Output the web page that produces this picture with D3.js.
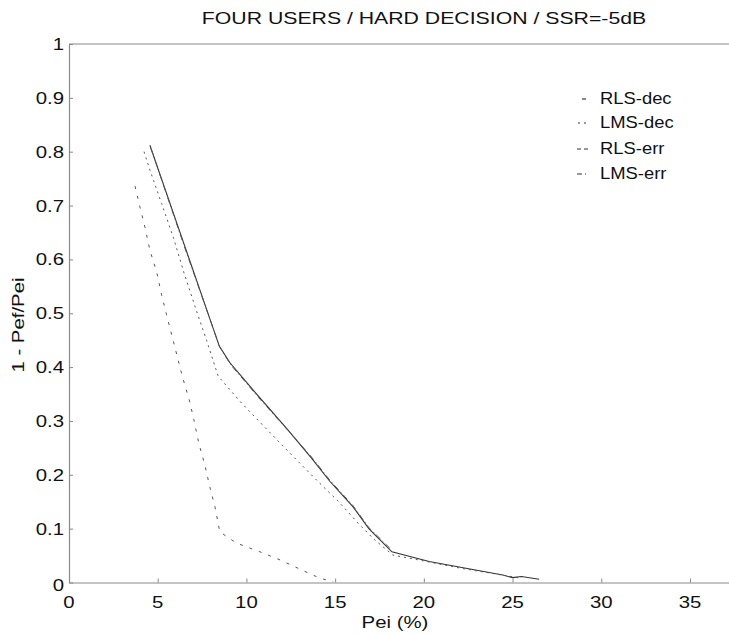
<!DOCTYPE html>
<html><head><meta charset="utf-8">
<script src="https://cdn.jsdelivr.net/npm/d3@7"></script>
<style>html,body{margin:0;padding:0;background:#fff;}svg{display:block;}text{font-family:"Liberation Sans",Arial,sans-serif;fill:#111;}</style>
</head><body>
<script>
// ---- data ----
const title = "FOUR USERS / HARD DECISION / SSR=-5dB";
const xLabel = "Pei (%)";
const yLabel = "1 - Pef/Pei";
const xTicks = [0,5,10,15,20,25,30,35];
const yTicks = [0,0.1,0.2,0.3,0.4,0.5,0.6,0.7,0.8,0.9,1];
const seriesNames = ["RLS-dec","LMS-dec","RLS-err","LMS-err"];
const legendMarks = ["-","..","--","-."];

const rlsDecX = [4.56,6.5,8.47,9.07,10.7,12.3,13.67,14.7,16.0,16.9,18.2,20.3,22.6,24.45,25.0,25.5,26.5];
const rlsDecY = [0.812,0.627,0.439,0.408,0.345,0.285,0.231,0.188,0.141,0.10,0.057,0.039,0.025,0.014,0.009,0.011,0.006];
const lmsDecX = [4.23,4.56,5.22,5.88,6.5,7.14,7.76,8.41,9.73,10.52,12.04,13.39,14.05,15.2,16.3,17.2,18.25,20,22,24,25.5];
const lmsDecY = [0.80,0.766,0.704,0.641,0.573,0.509,0.449,0.383,0.333,0.306,0.254,0.209,0.187,0.15,0.11,0.08,0.051,0.04,0.027,0.016,0.008];
const rlsErrX = [3.72,4.0,4.28,4.56,4.94,5.22,5.5,6.41,6.78,7.04,7.32,7.66,7.94,8.23,8.5,9.45,10.76,11.89,13.0,14.14,14.89];
const rlsErrY = [0.736,0.697,0.66,0.617,0.577,0.534,0.497,0.38,0.339,0.302,0.258,0.218,0.177,0.14,0.094,0.073,0.057,0.042,0.025,0.008,0.0015];
const lmsErrX = [4.62,6.5,8.5,9.1,10.7,12.3,13.67,14.7,16.0,16.9,18.2];
const lmsErrY = [0.806,0.624,0.437,0.405,0.343,0.284,0.233,0.19,0.143,0.102,0.06];

// ---- drawing ----
const W = 729, H = 634;
const svg = d3.select("body").append("svg").attr("width", W).attr("height", H);
svg.append("rect").attr("width", W).attr("height", H).attr("fill", "#fff");

const x = d3.scaleLinear().domain([0, 37.2]).range([69, 729]);
const y = d3.scaleLinear().domain([0, 1]).range([582.5, 44]);

function txt(px, py, s, size, anchor, sx, rot) {
  const g = svg.append("g").attr("transform", `translate(${px},${py})` + (rot ? ` rotate(${rot})` : "") + ` scale(${sx},1)`);
  g.append("text").attr("text-anchor", anchor).style("font-size", size + "px").text(s);
  return g;
}

// axes
const gx = svg.append("g").attr("transform", `translate(0,${y(0)})`)
  .call(d3.axisBottom(x).tickValues(xTicks).tickSizeInner(-4).tickSizeOuter(0).tickFormat(""));
const gy = svg.append("g").attr("transform", `translate(${x(0)},0)`)
  .call(d3.axisLeft(y).tickValues(yTicks).tickSizeInner(-4).tickSizeOuter(0).tickFormat(""));
[gx, gy].forEach(g => {
  g.select(".domain").attr("stroke", "#8a8a8a").attr("stroke-width", 1.2);
  g.selectAll(".tick line").attr("stroke", "#888");
});
svg.append("line").attr("x1", x(0)).attr("x2", x(37.2)).attr("y1", y(1)).attr("y2", y(1))
  .attr("stroke", "#8a8a8a").attr("stroke-width", 1.2);

// tick labels
xTicks.forEach(t => txt(x(t), 608, String(t), 17, "middle", 1.2));
yTicks.forEach(t => txt(x(0) - 5, y(t) + 6 + (t === 0 ? 2 : 0), String(t), 17, "end", 1.2));

// titles
txt(424, 24, title, 17, "middle", 1.25);
txt(395, 628, xLabel, 17, "middle", 1.2);
txt(24, 325, yLabel, 17, "middle", 1.2, -90);

// series
const styles = [
  {dash: null, color: "#333", w: 1.1},
  {dash: "2,4", color: "#555", w: 1},
  {dash: "3,7", color: "#555", w: 1},
  {dash: "6,3,1,3", color: "#555", w: 1}
];
const seriesData = [
  d3.zip(rlsDecX, rlsDecY),
  d3.zip(lmsDecX, lmsDecY),
  d3.zip(rlsErrX, rlsErrY),
  d3.zip(lmsErrX, lmsErrY)
];
const line = d3.line().x(d => x(d[0])).y(d => y(d[1]));
seriesData.forEach((d, i) => {
  svg.append("path").datum(d).attr("d", line).attr("fill", "none")
    .attr("stroke", styles[i].color).attr("stroke-width", styles[i].w)
    .attr("stroke-dasharray", styles[i].dash);
});

// legend
const legY = [98, 122, 148, 173];
const legX0 = [582, 578, 577, 577];
const legDash = ["4", "2,4", "4,3", "5,3,1,3"];
const legLen = [4, 8, 12, 11];
seriesNames.forEach((n, i) => {
  svg.append("line").attr("x1", legX0[i]).attr("x2", legX0[i] + legLen[i]).attr("y1", legY[i] + 1).attr("y2", legY[i] + 1)
    .attr("stroke", "#333").attr("stroke-width", 1.2).attr("stroke-dasharray", legDash[i]);
  txt(600, legY[i] + 6, n, 16, "start", 1.15);
});
</script>
</body></html>
